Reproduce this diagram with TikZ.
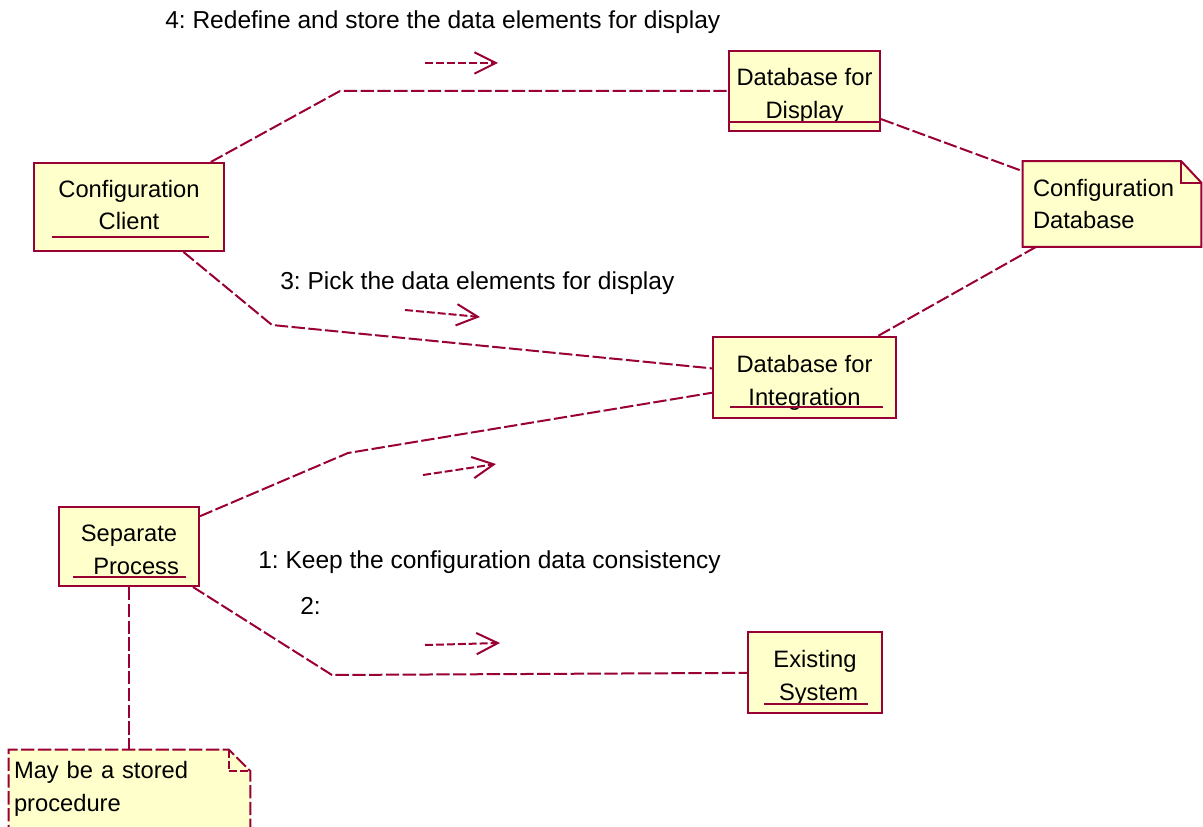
\documentclass[tikz,border=0pt]{standalone}
\usepackage{fontspec}
\setmainfont{Liberation Sans}
\usetikzlibrary{arrows.meta,backgrounds}
\definecolor{umlline}{RGB}{153,0,51}
\definecolor{umlfill}{RGB}{255,255,204}
\frenchspacing
% two-line object name, set slightly low in its box (box size unchanged)
\newcommand\objname[3][-3.5pt]{\raisebox{#1}[\height][\depth]{\begin{tabular}{@{}c@{}}#2\\#3\end{tabular}}}

\begin{document}
\begin{tikzpicture}[x=0.75pt,y=-0.75pt,
  every node/.style={font=\fontsize{17.8}{24.5}\selectfont, text=black},
  obj/.style={draw=umlline, fill=umlfill, line width=1.5pt, inner sep=0pt},
  notebody/.style={inner sep=0pt, align=left},
  noteedge/.style={draw=umlline, fill=umlfill, line width=1.5pt},
  link/.style={draw=umlline, line width=1.5pt, dash pattern=on 10pt off 2.6pt},
  msg/.style={draw=umlline, line width=1.5pt, dash pattern=on 6pt off 2.2pt,
    -{Straight Barb[length=16pt,width=16pt]}},
  uline/.style={draw=umlline, line width=1.5pt},
  lbl/.style={anchor=west, inner sep=0pt, font=\fontsize{18.4}{24.5}\selectfont},
]
\useasboundingbox (0,0) rectangle (1203,827);

% object boxes
\node[obj, minimum width=190*0.75pt, minimum height=88*0.75pt] (cc) at (129,207) {\objname[0pt]{Configuration}{Client}};
\node[obj, minimum width=151*0.75pt, minimum height=80*0.75pt] (dbd) at (804.5,91) {\objname{Database for}{Display}};
\node[obj, minimum width=183*0.75pt, minimum height=81*0.75pt] (dbi) at (804.5,377.5) {\objname{Database for}{Integration}};
\node[obj, minimum width=140*0.75pt, minimum height=79*0.75pt] (sp) at (129,546.5) {\objname{Separate}{\hspace*{0.6em}Process}};
\node[obj, minimum width=134*0.75pt, minimum height=81*0.75pt] (es) at (815,672.5) {\objname{Existing}{\hspace*{0.3em}System}};

% underlined object names
\draw[uline] (52,237) -- (209,237);
\draw[uline] (729,122) -- (880,122);
\draw[uline] (730,407) -- (883,407);
\draw[uline] (73,577) -- (186,577);
\draw[uline] (764,704) -- (868,704);

% notes
\node[notebody, minimum width=178*0.75pt, minimum height=85*0.75pt,
      text width=158*0.75pt] (cdb) at (1112,204) {Configuration\\Database};
\node[notebody, minimum width=241*0.75pt, minimum height=78*0.75pt,
      text width=231*0.75pt] (sn) at (129.5,789) {May be a stored\\procedure};
\begin{scope}[on background layer]
  \path[noteedge] (cdb.north west) -- ([xshift=-15pt]cdb.north east)
    -- ([yshift=-16pt]cdb.north east) -- (cdb.south east) -- (cdb.south west) -- cycle;
  \draw[uline] ([xshift=-15pt]cdb.north east) |- ([yshift=-16pt]cdb.north east);
  \path[noteedge, dash pattern=on 10pt off 2.6pt] ([yshift=-20pt]sn.south west) -- (sn.north west)
    -- ([xshift=-16pt]sn.north east) -- ([yshift=-16pt]sn.north east)
    -- ([yshift=-20pt]sn.south east);
  \draw[uline, dash pattern=on 6pt off 2.2pt] ([xshift=-16pt]sn.north east) |- ([yshift=-16pt]sn.north east);
\end{scope}

% links
\draw[link] (cc) -- (340,91) -- (dbd);
\draw[link] (dbd) -- (cdb);
\draw[link] (cdb) -- (dbi);
\draw[link] (cc) -- (272,325) -- (dbi);
\draw[link] (sp) -- (348,453) -- (dbi);
\draw[link] (sp) -- (332,675) -- (es);
\draw[link] (sp.south) -- (sp.south |- sn.north);

% messages
\coordinate (m4a) at (425,63);  \coordinate (m4b) at (498,63);
\coordinate (m3a) at (405,310); \coordinate (m3b) at (480,317);
\coordinate (m1a) at (423,475); \coordinate (m1b) at (496,464);
\coordinate (m2a) at (425,645); \coordinate (m2b) at (500,643);
\draw[msg] (m4a) -- (m4b);
\draw[msg] (m3a) -- (m3b);
\draw[msg] (m1a) -- (m1b);
\draw[msg] (m2a) -- (m2b);

\node[lbl] (t4) at (165,22) {4: Redefine and store the data elements for display};
\node[lbl] (t3) at (280,283) {3: Pick the data elements for display};
\node[lbl] (t1) at (258,562) {1: Keep the configuration data consistency};
\node[lbl] (t2) at (300,606) {2:};
\end{tikzpicture}
\end{document}
